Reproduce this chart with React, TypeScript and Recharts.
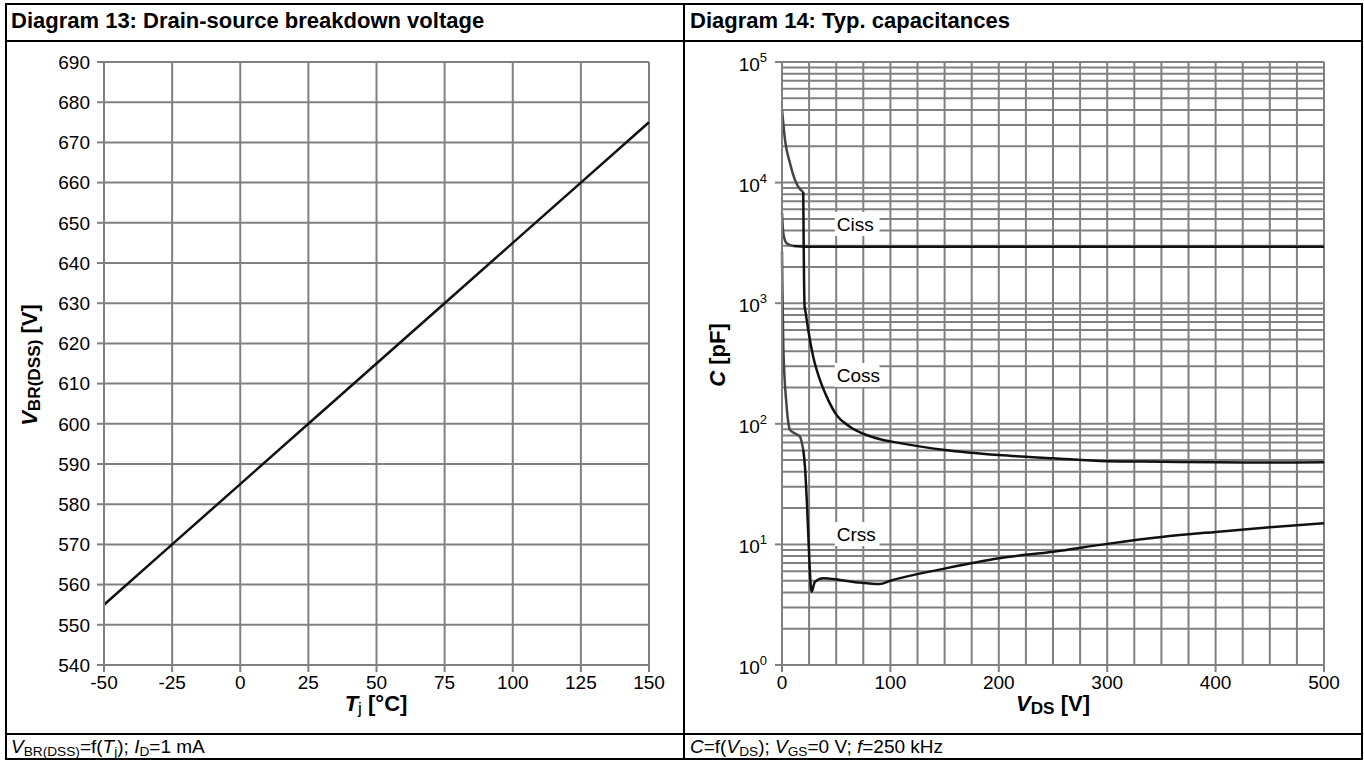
import React from 'react';
import { LineChart, Line, XAxis, YAxis, CartesianGrid, ReferenceDot } from 'recharts';

// ---------- Diagram 13 data ----------
const tjValues = [-50, -25, 0, 25, 50, 75, 100, 125, 150];
const vbrValues = [555, 570, 585, 600, 615, 630, 645, 660, 675];
const tjTicks = [-50, -25, 0, 25, 50, 75, 100, 125, 150];
const vbrTicks = [540, 550, 560, 570, 580, 590, 600, 610, 620, 630, 640, 650, 660, 670, 680, 690];

// ---------- Diagram 14 data ----------
const vdsTicks = [0, 25, 50, 75, 100, 125, 150, 175, 200, 225, 250, 275, 300, 325, 350, 375, 400, 425, 450, 475, 500];
const vdsLabelTicks = [0, 100, 200, 300, 400, 500];
const capTicks = [
  1, 2, 3, 4, 5, 6, 7, 8, 9,
  10, 20, 30, 40, 50, 60, 70, 80, 90,
  100, 200, 300, 400, 500, 600, 700, 800, 900,
  1000, 2000, 3000, 4000, 5000, 6000, 7000, 8000, 9000,
  10000, 20000, 30000, 40000, 50000, 60000, 70000, 80000, 90000,
  100000,
];
const capDecades = [1, 10, 100, 1000, 10000, 100000];

const cissLowV = [0, 1.2, 4.3, 10.4];
const cissLowC = [5620, 3800, 3140, 2980];
const cissV = [10.4, 22.7, 100, 200, 300, 400, 500];
const cissC = [2980, 2940, 2940, 2940, 2940, 2940, 2940];

const cossLowV = [0, 2.8, 7.4, 12, 16.6, 19.6];
const cossLowC = [40500, 22500, 14450, 10500, 8800, 8400];
const cossV = [19.6, 20.8, 21.6, 24.2, 28.8, 35, 41.2, 50.4, 62.6, 78, 93.3, 100, 150, 200, 250, 300, 350, 400, 450, 500];
const cossC = [8400, 950, 860, 600, 360, 231, 168, 118, 94.7, 80.7, 73.4, 71.5, 60.6, 55, 51.8, 49, 48.5, 47.9, 47.8, 47.9];

const crssLowV = [0, 0.3, 1.2, 4.3, 7.4, 12, 16.6, 19.6];
const crssLowC = [2700, 1500, 440, 139, 89, 83, 78, 61];
const crssV = [19.6, 21.2, 22.7, 24.2, 25.8, 27.3, 30.4, 38, 53.4, 71.8, 90, 100, 150, 200, 250, 300, 350, 400, 450, 500];
const crssC = [61, 44, 25, 12.4, 5.8, 4.05, 4.9, 5.24, 5.07, 4.82, 4.69, 5.0, 6.3, 7.67, 8.7, 10.1, 11.5, 12.7, 13.9, 15.0];

const curveNames = ['Ciss', 'Coss', 'Crss'];
const curveLabelV = [50.5, 50.5, 50.5];
const curveLabelC = [4540, 254, 12.2];

const zip = (xs: number[], ys: number[], kx: string, ky: string) =>
  xs.map((x, i) => ({ [kx]: x, [ky]: ys[i] }));

const vbrData = zip(tjValues, vbrValues, 'tj', 'vbr');
const cissLowData = zip(cissLowV, cissLowC, 'v', 'c');
const cissData = zip(cissV, cissC, 'v', 'c');
const cossLowData = zip(cossLowV, cossLowC, 'v', 'c');
const cossData = zip(cossV, cossC, 'v', 'c');
const crssLowData = zip(crssLowV, crssLowC, 'v', 'c');
const crssData = zip(crssV, crssC, 'v', 'c');

const GRID = '#808080';
const FONT = '"Liberation Sans", Arial, sans-serif';
const TICK_FS = 19;
const TITLE_FS = 22;

const CapTick = (props: any) => {
  const { x, y, payload } = props;
  const v = payload.value;
  const idx = capDecades.indexOf(v);
  if (idx < 0) return <g />;
  return (
    <g>
      <line x1={x + 4} x2={x + 11} y1={y} y2={y} stroke={GRID} strokeWidth={2} />
      <text x={x - 4} y={y + 9} textAnchor="end" fontFamily={FONT} fontSize={TICK_FS} fill="#000">
        10<tspan dy={-9} fontSize={13}>{idx}</tspan>
      </text>
    </g>
  );
};

const VdsTick = (props: any) => {
  const { x, y, payload } = props;
  const v = payload.value;
  if (vdsLabelTicks.indexOf(v) < 0) return <g />;
  return (
    <g>
      <line x1={x} x2={x} y1={y - 11} y2={y - 4} stroke={GRID} strokeWidth={2} />
      <text x={x} y={y} dy="0.71em" textAnchor="middle" fontFamily={FONT} fontSize={TICK_FS} fill="#000">
        {v}
      </text>
    </g>
  );
};

const LabelShape = (name: string) => (props: any) => {
  const { cx, cy } = props;
  const w = name.length * 10.2 + 4;
  return (
    <g>
      <rect x={cx - 2} y={cy - 12} width={w} height={24} fill="#fff" />
      <text x={cx} y={cy} dy="0.36em" fontFamily={FONT} fontSize={TICK_FS} fill="#000">
        {name}
      </text>
    </g>
  );
};

const abs = (l: number, t: number, extra: React.CSSProperties = {}): React.CSSProperties => ({
  position: 'absolute',
  left: l,
  top: t,
  ...extra,
});

const sub: React.CSSProperties = { fontSize: '0.72em', verticalAlign: '-0.25em' };
const subBig: React.CSSProperties = { fontSize: '0.78em', verticalAlign: '-0.2em' };

export default function App() {
  return (
    <div
      style={{
        position: 'fixed',
        left: 0,
        top: 0,
        width: 1364,
        height: 761,
        background: '#fff',
        fontFamily: FONT,
        color: '#000',
        overflow: 'hidden',
      }}
    >
      {/* table borders */}
      <div style={abs(5, 3, { width: 1354, height: 753, border: '2px solid #000' })} />
      <div style={abs(5, 40, { width: 1358, height: 2, background: '#000' })} />
      <div style={abs(5, 733, { width: 1358, height: 2, background: '#000' })} />
      <div style={abs(683, 3, { width: 2, height: 755, background: '#000' })} />

      {/* headers */}
      <div style={abs(11, 8, { fontWeight: 'bold', fontSize: TITLE_FS, whiteSpace: 'nowrap' })}>
        Diagram 13: Drain-source breakdown voltage
      </div>
      <div style={abs(690, 8, { fontWeight: 'bold', fontSize: TITLE_FS, whiteSpace: 'nowrap' })}>
        Diagram 14: Typ. capacitances
      </div>

      {/* footers */}
      <div style={abs(11, 736, { fontSize: 19, whiteSpace: 'nowrap' })}>
        <i>V</i>
        <span style={sub}>BR(DSS)</span>=f(<i>T</i>
        <span style={sub}>j</span>); <i>I</i>
        <span style={sub}>D</span>=1 mA
      </div>
      <div style={abs(690, 736, { fontSize: 19, whiteSpace: 'nowrap' })}>
        <i>C</i>=f(<i>V</i>
        <span style={sub}>DS</span>); <i>V</i>
        <span style={sub}>GS</span>=0 V; <i>f</i>=250 kHz
      </div>

      {/* Diagram 13 */}
      <div style={abs(0, 0)}>
        <LineChart width={684} height={734} data={vbrData} margin={{ top: 62, right: 35, left: 0, bottom: 0 }}>
          <CartesianGrid stroke={GRID} strokeWidth={2} />
          <XAxis
            dataKey="tj"
            type="number"
            domain={[-50, 150]}
            ticks={tjTicks}
            interval={0}
            height={69}
            tickSize={7}
            tickMargin={4}
            axisLine={{ stroke: GRID, strokeWidth: 2 }}
            tickLine={{ stroke: GRID, strokeWidth: 2 }}
            tick={{ fill: '#000', fontSize: TICK_FS, fontFamily: FONT }}
          />
          <YAxis
            dataKey="vbr"
            type="number"
            domain={[540, 690]}
            ticks={vbrTicks}
            interval={0}
            width={104}
            tickSize={7}
            tickMargin={7}
            axisLine={{ stroke: GRID, strokeWidth: 2 }}
            tickLine={{ stroke: GRID, strokeWidth: 2 }}
            tick={{ fill: '#000', fontSize: TICK_FS, fontFamily: FONT }}
          />
          <Line dataKey="vbr" stroke="#111" strokeWidth={2.5} dot={false} activeDot={false} isAnimationActive={false} type="linear" />
        </LineChart>
      </div>

      {/* Diagram 14 */}
      <div style={abs(684, 0)}>
        <LineChart width={680} height={734} margin={{ top: 62, right: 40, left: 0, bottom: 0 }}>
          <CartesianGrid stroke={GRID} strokeWidth={2} />
          <XAxis
            dataKey="v"
            type="number"
            domain={[0, 500]}
            ticks={vdsTicks}
            interval={0}
            height={69}
            tickSize={7}
            tickMargin={4}
            tickLine={false}
            axisLine={{ stroke: GRID, strokeWidth: 2 }}
            tick={<VdsTick />}
            allowDuplicatedCategory={false}
          />
          <YAxis
            dataKey="c"
            type="number"
            scale="log"
            domain={[1, 100000]}
            allowDataOverflow
            ticks={capTicks}
            interval={0}
            width={98}
            tickSize={7}
            tickMargin={4}
            tickLine={false}
            axisLine={{ stroke: GRID, strokeWidth: 2 }}
            tick={<CapTick />}
          />
          <Line data={cissLowData} dataKey="c" stroke="#444" strokeWidth={2.5} dot={false} activeDot={false} isAnimationActive={false} type="monotone" />
          <Line data={cissData} dataKey="c" stroke="#111" strokeWidth={2.5} dot={false} activeDot={false} isAnimationActive={false} type="monotone" />
          <Line data={cossLowData} dataKey="c" stroke="#444" strokeWidth={2.5} dot={false} activeDot={false} isAnimationActive={false} type="monotone" />
          <Line data={cossData} dataKey="c" stroke="#111" strokeWidth={2.5} dot={false} activeDot={false} isAnimationActive={false} type="monotone" />
          <Line data={crssLowData} dataKey="c" stroke="#444" strokeWidth={2.5} dot={false} activeDot={false} isAnimationActive={false} type="monotone" />
          <Line data={crssData} dataKey="c" stroke="#111" strokeWidth={2.5} dot={false} activeDot={false} isAnimationActive={false} type="monotone" />
          {curveNames.map((n, i) => (
            <ReferenceDot key={n} x={curveLabelV[i]} y={curveLabelC[i]} r={0} shape={LabelShape(n)} />
          ))}
        </LineChart>
      </div>

      {/* axis titles */}
      <div
        style={abs(31, 365, {
          transform: 'translate(-50%, -50%) rotate(-90deg)',
          fontWeight: 'bold',
          fontSize: TITLE_FS,
          whiteSpace: 'nowrap',
        })}
      >
        <i>V</i>
        <span style={subBig}>BR(DSS)</span> [V]
      </div>
      <div style={abs(376, 705, { transform: 'translate(-50%, -50%)', fontWeight: 'bold', fontSize: TITLE_FS, whiteSpace: 'nowrap' })}>
        <i>T</i>
        <span style={{ ...subBig, fontWeight: 'normal' }}>j</span> [°C]
      </div>
      <div
        style={abs(718, 355, {
          transform: 'translate(-50%, -50%) rotate(-90deg)',
          fontWeight: 'bold',
          fontSize: TITLE_FS,
          whiteSpace: 'nowrap',
        })}
      >
        <i>C</i> [pF]
      </div>
      <div style={abs(1053, 705, { transform: 'translate(-50%, -50%)', fontWeight: 'bold', fontSize: TITLE_FS, whiteSpace: 'nowrap' })}>
        <i>V</i>
        <span style={subBig}>DS</span> [V]
      </div>
    </div>
  );
}
